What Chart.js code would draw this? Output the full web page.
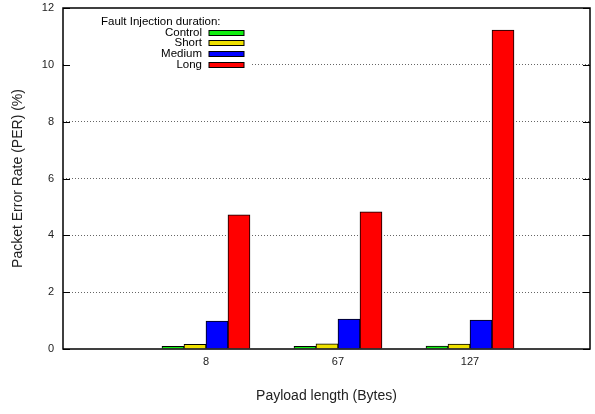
<!DOCTYPE html>
<html>
<head>
<meta charset="utf-8">
<script src="https://cdn.jsdelivr.net/npm/chart.js@4"></script>
<style>
  html, body { margin: 0; padding: 0; background: #fff; }
  #wrap { width: 595px; height: 414px; }
</style>
</head>
<body>
<div id="wrap"><canvas id="myChart" width="595" height="414"></canvas></div>
<script>
// Data
const payloads = ["8", "67", "127"];
const seriesNames = ["Control", "Short", "Medium", "Long"];
const seriesColors = ["#11ee11", "#eee000", "#0000ff", "#ff0000"];
const control = [0.09, 0.09, 0.10];
const shortRun = [0.16, 0.18, 0.17];
const medium = [0.98, 1.05, 1.02];
const longRun = [4.72, 4.83, 11.22];
const yTicks = [0, 2, 4, 6, 8, 10, 12];

const seriesValues = [control, shortRun, medium, longRun];

const FONT = "'Liberation Sans', Arial, sans-serif";

// gnuplot-like frame, inward tics and opaque key box
const framePlugin = {
  id: 'frame',
  beforeDatasetsDraw(chart) {
    const ctx = chart.ctx;
    const a = chart.chartArea;
    ctx.save();
    ctx.fillStyle = '#fff';
    ctx.fillRect(a.left + 1, a.top + 1, 250 - a.left, 70 - a.top);
    ctx.restore();
  },
  afterDraw(chart) {
    const ctx = chart.ctx;
    const a = chart.chartArea;
    const y = chart.scales.y;
    ctx.save();
    ctx.strokeStyle = '#000';
    ctx.lineWidth = 1.5;
    ctx.strokeRect(a.left, a.top, a.right - a.left, a.bottom - a.top);
    ctx.lineWidth = 1;
    yTicks.forEach(v => {
      const py = Math.round(y.getPixelForValue(v)) + 0.5;
      ctx.beginPath();
      ctx.moveTo(a.left, py); ctx.lineTo(a.left + 7, py);
      ctx.moveTo(a.right, py); ctx.lineTo(a.right - 7, py);
      ctx.stroke();
    });

    // key
    ctx.fillStyle = '#000';
    ctx.font = '11.5px ' + FONT;
    ctx.textBaseline = 'middle';
    ctx.textAlign = 'left';
    ctx.fillText('Fault Injection duration:', 101, 22);
    ctx.textAlign = 'right';
    seriesNames.forEach((name, i) => {
      const cy = 32.5 + i * 10.8;
      ctx.fillText(name, 202, cy);
      ctx.fillStyle = seriesColors[i];
      ctx.fillRect(209, Math.round(cy) - 2.5, 35, 5);
      ctx.strokeStyle = '#000';
      ctx.strokeRect(209, Math.round(cy) - 2.5, 35, 5);
      ctx.fillStyle = '#000';
    });
    ctx.restore();
  }
};

const ctx = document.getElementById('myChart').getContext('2d');
window.chart = new Chart(ctx, {
  type: 'bar',
  data: {
    datasets: seriesNames.map((name, i) => ({
      label: name,
      data: seriesValues[i].map((v, j) => ({ x: j, y: v })),
      backgroundColor: seriesColors[i],
      borderColor: '#000',
      borderWidth: 1,
      barThickness: 22
    }))
  },
  options: {
    responsive: false,
    animation: false,
    layout: { padding: { top: 8, right: 5, left: 0, bottom: 0 } },
    plugins: {
      legend: { display: false },
      tooltip: { enabled: false }
    },
    scales: {
      x: {
        type: 'linear',
        offset: false,
        min: -1.083,
        max: 2.909,
        afterBuildTicks: scale => { scale.ticks = payloads.map((_, i) => ({ value: i })); },
        afterFit: scale => { scale.height = 65; scale.paddingLeft = 0; scale.paddingRight = 0; },
        grid: { display: false, drawTicks: false },
        border: { display: false },
        ticks: {
          padding: 6,
          color: '#222',
          font: { family: FONT, size: 11 },
          callback: v => payloads[v] !== undefined ? payloads[v] : ''
        },
        title: {
          display: true,
          text: 'Payload length (Bytes)',
          color: '#222',
          font: { family: FONT, size: 14 },
          padding: { top: 0, bottom: 9 }
        }
      },
      y: {
        min: 0,
        max: 12,
        afterBuildTicks: scale => { scale.ticks = yTicks.map(v => ({ value: v })); },
        afterFit: scale => { scale.width = 63; scale.paddingTop = 0; scale.paddingBottom = 0; },
        grid: {
          drawTicks: false,
          color: c => (c.tick.value === 0 || c.tick.value === 12) ? 'rgba(0,0,0,0)' : '#666',
          lineWidth: 1
        },
        border: { display: false, dash: [1, 2] },
        ticks: {
          padding: 9,
          color: '#222',
          font: { family: FONT, size: 11 }
        },
        title: {
          display: true,
          text: 'Packet Error Rate (PER) (%)',
          color: '#222',
          font: { family: FONT, size: 14 },
          padding: { top: 10, bottom: 0 }
        }
      }
    }
  },
  plugins: [framePlugin]
});
</script>
</body>
</html>
